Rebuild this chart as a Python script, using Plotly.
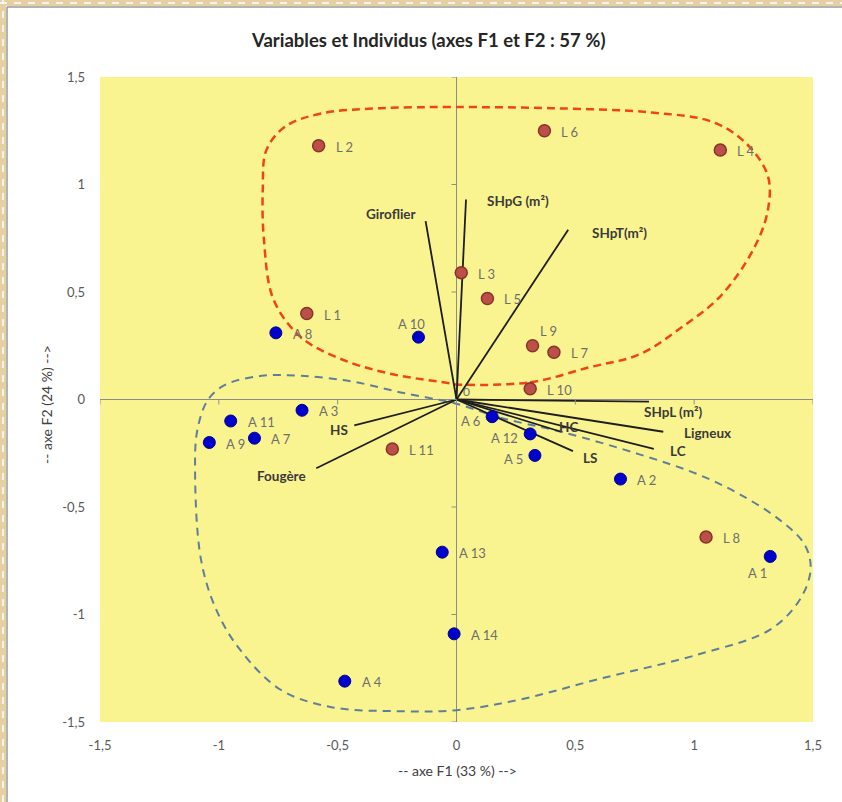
import plotly.graph_objects as go

# ---------------- data ----------------
# Individuals: A = blue group, L = red group (coordinates on F1 / F2)
a_names = ["A 1", "A 2", "A 3", "A 4", "A 5", "A 6", "A 7", "A 8", "A 9", "A 10", "A 11", "A 12", "A 13", "A 14"]
a_x = [1.32, 0.69, -0.65, -0.47, 0.33, 0.15, -0.85, -0.76, -1.04, -0.16, -0.95, 0.31, -0.06, -0.01]
a_y = [-0.73, -0.37, -0.05, -1.31, -0.26, -0.08, -0.18, 0.31, -0.20, 0.29, -0.10, -0.16, -0.71, -1.09]
a_pos = ["bl", "r", "r", "r", "l", "l", "r", "r", "r", "tc", "r", "l", "r", "r"]

l_names = ["L 1", "L 2", "L 3", "L 4", "L 5", "L 6", "L 7", "L 8", "L 9", "L 10", "L 11"]
l_x = [-0.63, -0.58, 0.02, 1.11, 0.13, 0.37, 0.41, 1.05, 0.32, 0.31, -0.27]
l_y = [0.40, 1.18, 0.59, 1.16, 0.47, 1.25, 0.22, -0.64, 0.25, 0.05, -0.23]
l_pos = ["r", "r", "r", "r", "r", "r", "r", "r", "tr", "r", "r"]

# Variables (correlation vectors drawn from the origin)
var_names = ["Giroflier", "SHpG (m²)", "SHpT(m²)", "SHpL (m²)", "Ligneux", "LC", "LS", "HC", "HS", "Fougère"]
var_x = [-0.13, 0.04, 0.47, 0.81, 0.87, 0.83, 0.49, 0.44, -0.43, -0.59]
var_y = [0.83, 0.93, 0.79, -0.01, -0.15, -0.23, -0.24, -0.15, -0.12, -0.32]
# label offsets in pixels (dx, dy) from the arrow tip
var_lbl_dx = [-35, 52, 51, 24, 44, 24, 17, 7, -15, -35]
var_lbl_dy = [7, -1, -3, -10, -1, -2, -7, 5, -5, -8]

# Hand-drawn grouping contours
red_cx = [0, 0.31, 0.56, 0.77, 0.94, 1.11, 1.25, 1.31, 1.31, 1.22, 1.08, 0.82, 0.40, 0, -0.32, -0.57,
          -0.72, -0.80, -0.815, -0.81, -0.77, -0.655, -0.49, -0.28, -0.025, 0]
red_cy = [0.07, 0.08, 0.15, 0.21, 0.33, 0.48, 0.70, 0.88, 1.04, 1.19, 1.29, 1.335, 1.355, 1.36, 1.355, 1.33,
          1.27, 1.16, 0.98, 0.74, 0.465, 0.29, 0.19, 0.12, 0.075, 0.07]
blue_cx = [0, 0.185, 0.44, 0.77, 1.02, 1.19, 1.36, 1.465, 1.49, 1.445, 1.32, 1.02, 0.60, 0.27, 0, -0.235,
           -0.53, -0.74, -0.91, -1.01, -1.075, -1.10, -1.09, -1.045, -0.97, -0.82, -0.655, -0.445, -0.235, 0]
blue_cy = [-0.02, -0.085, -0.15, -0.255, -0.35, -0.44, -0.56, -0.675, -0.79, -0.93, -1.07, -1.185, -1.30,
           -1.395, -1.445, -1.45, -1.43, -1.35, -1.165, -0.98, -0.745, -0.33, -0.14, 0.0, 0.07, 0.11, 0.11,
           0.085, 0.033, -0.02]

tick_vals = [-1.5, -1, -0.5, 0, 0.5, 1, 1.5]
tick_text = ["-1,5", "-1", "-0,5", "0", "0,5", "1", "1,5"]

title_text = "Variables et Individus (axes F1 et F2 : 57 %)"
x_title = "-- axe F1 (33 %) -->"
y_title = "-- axe F2 (24 %) -->"

# ---------------- layout constants ----------------
W, H = 842, 802
ML, MR, MT, MB = 100, 29, 77, 80
PW, PH = W - ML - MR, H - MT - MB
FONT = "Lato, Carlito, Calibri, sans-serif"
LABEL_GREY = "#6e6e6e"


def px_x(p):
    return (p - ML) / PW


def px_y(p):
    return 1 - (p - MT) / PH


fig = go.Figure()

# contours
fig.add_trace(go.Scatter(x=red_cx, y=red_cy, mode="lines",
                         line=dict(color="#F0431A", width=2.5, dash="8px,5px", shape="spline", smoothing=1.0),
                         hoverinfo="skip"))
fig.add_trace(go.Scatter(x=blue_cx, y=blue_cy, mode="lines",
                         line=dict(color="#5F7E9A", width=2, dash="8px,6px", shape="spline", smoothing=1.0),
                         hoverinfo="skip"))

# variable vectors
for vx, vy in zip(var_x, var_y):
    fig.add_trace(go.Scatter(x=[0, vx], y=[0, vy], mode="lines",
                             line=dict(color="#1e1e1e", width=1.8), hoverinfo="skip"))

# individuals
fig.add_trace(go.Scatter(x=l_x, y=l_y, mode="markers", text=l_names,
                         marker=dict(size=12, color="#BC4F47", line=dict(color="#86352C", width=1.5))))
fig.add_trace(go.Scatter(x=a_x, y=a_y, mode="markers", text=a_names,
                         marker=dict(size=12, color="#0000CC", line=dict(color="#000088", width=1))))

annotations = []

placement = {
    "r": dict(xanchor="left", yanchor="middle", xshift=15, yshift=-1),
    "l": dict(xanchor="right", yanchor="middle", xshift=-10, yshift=-4),
    "bl": dict(xanchor="center", yanchor="middle", xshift=-13, yshift=-17),
    "tc": dict(xanchor="center", yanchor="middle", xshift=-7, yshift=13),
    "tr": dict(xanchor="center", yanchor="middle", xshift=16, yshift=15),
}

for names, xs, ys, pos in ((a_names, a_x, a_y, a_pos), (l_names, l_x, l_y, l_pos)):
    for n, x, y, p in zip(names, xs, ys, pos):
        annotations.append(dict(x=x, y=y, xref="x", yref="y", text=n, showarrow=False,
                                font=dict(family=FONT, size=13, color=LABEL_GREY), **placement[p]))

for n, x, y, dx, dy in zip(var_names, var_x, var_y, var_lbl_dx, var_lbl_dy):
    annotations.append(dict(x=x, y=y, xref="x", yref="y", text="<b>%s</b>" % n, showarrow=False,
                            xanchor="center", yanchor="middle", xshift=dx, yshift=dy,
                            font=dict(family=FONT, size=13.5, color="#3a3a3a")))

# origin label
annotations.append(dict(x=0, y=0, xref="x", yref="y", text="0", showarrow=False,
                        xanchor="center", yanchor="middle", xshift=10, yshift=8,
                        font=dict(family=FONT, size=12, color=LABEL_GREY)))

# title and axis titles
annotations.append(dict(x=px_x(428), y=px_y(40), xref="paper", yref="paper",
                        text="<b>%s</b>" % title_text, showarrow=False,
                        xanchor="center", yanchor="middle",
                        font=dict(family=FONT, size=18.5, color="#262626")))
annotations.append(dict(x=px_x(457), y=px_y(770), xref="paper", yref="paper", text=x_title,
                        showarrow=False, xanchor="center", yanchor="middle",
                        font=dict(family=FONT, size=14, color="#404040")))
annotations.append(dict(x=px_x(46), y=px_y(405), xref="paper", yref="paper", text=y_title,
                        showarrow=False, xanchor="center", yanchor="middle", textangle=-90,
                        font=dict(family=FONT, size=14, color="#404040")))

# axis tick marks on the centred axes
shapes = []
for t in tick_vals:
    shapes.append(dict(type="line", xref="x", yref="y", xsizemode="scaled", ysizemode="pixel",
                       x0=t, x1=t, yanchor=0, y0=0, y1=-5, line=dict(color="#8c8c8c", width=1)))
    shapes.append(dict(type="line", xref="x", yref="y", xsizemode="pixel", ysizemode="scaled",
                       xanchor=0, x0=0, x1=-5, y0=t, y1=t, line=dict(color="#8c8c8c", width=1)))

# page frame: tan dashed strip along the left and top edges
tan = "#E4D0A2"
shapes += [
    dict(type="rect", xref="paper", yref="paper", x0=px_x(0), x1=px_x(6), y0=px_y(H), y1=px_y(0),
         fillcolor=tan, line=dict(width=0), layer="above"),
    dict(type="rect", xref="paper", yref="paper", x0=px_x(0), x1=px_x(W), y0=px_y(6), y1=px_y(0),
         fillcolor=tan, line=dict(width=0), layer="above"),
    dict(type="line", xref="paper", yref="paper", x0=px_x(3), x1=px_x(3), y0=px_y(H), y1=px_y(0),
         line=dict(color="white", width=1.5, dash="7px,7px"), layer="above"),
    dict(type="line", xref="paper", yref="paper", x0=px_x(0), x1=px_x(W), y0=px_y(3), y1=px_y(3),
         line=dict(color="white", width=1.5, dash="7px,7px"), layer="above"),
    dict(type="line", xref="paper", yref="paper", x0=px_x(7), x1=px_x(7), y0=px_y(H), y1=px_y(7),
         line=dict(color="#9a9a9a", width=1.5), layer="above"),
    dict(type="line", xref="paper", yref="paper", x0=px_x(7), x1=px_x(W), y0=px_y(7), y1=px_y(7),
         line=dict(color="#9a9a9a", width=1.5), layer="above"),
]

axis_common = dict(range=[-1.5, 1.5], tickvals=tick_vals, ticktext=tick_text, showgrid=False,
                   zeroline=True, zerolinecolor="#8c8c8c", zerolinewidth=1, showline=False,
                   ticks="", tickfont=dict(family=FONT, size=13, color="#595959"), fixedrange=True)

fig.update_layout(
    width=W, height=H,
    margin=dict(l=ML, r=MR, t=MT, b=MB),
    paper_bgcolor="white",
    plot_bgcolor="#FAF490",
    showlegend=False,
    xaxis=dict(**axis_common, ticklabelstandoff=14),
    yaxis=dict(**axis_common, ticklabelstandoff=14),
    annotations=annotations,
    shapes=shapes,
)

fig.write_html("out.html")
